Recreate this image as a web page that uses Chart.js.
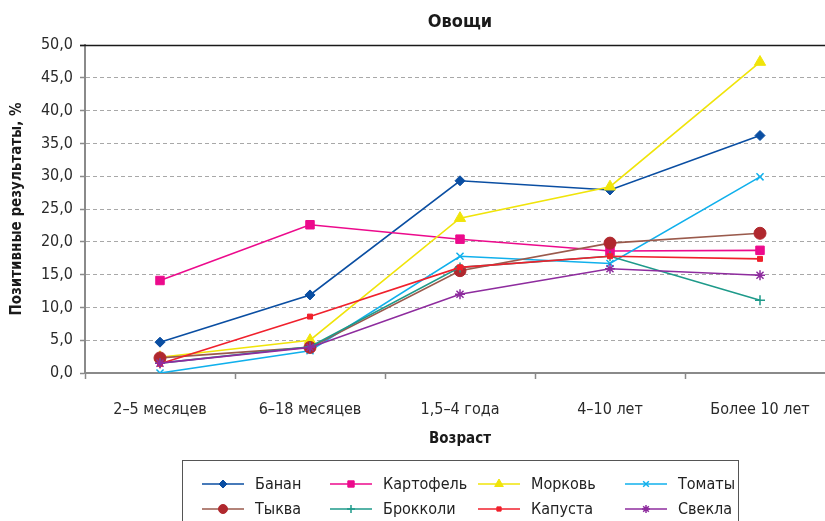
<!DOCTYPE html>
<html>
<head>
<meta charset="utf-8">
<script src="https://cdn.jsdelivr.net/npm/chart.js@4.4.1/dist/chart.umd.min.js"></script>
<style>
  html, body { margin: 0; padding: 0; background: #fff; }
  #wrap { width: 825px; height: 521px; overflow: hidden; position: relative; }
  canvas { display: block; }
</style>
</head>
<body>
<div id="wrap"><canvas id="chart" width="850" height="521"></canvas></div>
<script>
const FONT = "'Liberation Sans Narrow', 'DejaVu Sans Condensed', 'Roboto', sans-serif";

const chartTitle = 'Овощи';
const xTitle = 'Возраст';
const yTitle = 'Позитивные результаты, %';
const ageGroups = ['2–5 месяцев', '6–18 месяцев', '1,5–4 года', '4–10 лет', 'Более 10 лет'];

const seriesNames = ['Банан', 'Картофель', 'Морковь', 'Томаты', 'Тыква', 'Брокколи', 'Капуста', 'Свекла'];
const banana   = [4.7, 11.9, 29.3, 27.9, 36.2];
const potato   = [14.1, 22.6, 20.4, 18.6, 18.7];
const carrot   = [2.4, 5.0, 23.6, 28.4, 47.4];
const tomato   = [0.0, 3.4, 17.8, 16.7, 29.9];
const pumpkin  = [2.3, 3.9, 15.6, 19.8, 21.3];
const broccoli = [1.5, 4.0, 16.1, 17.8, 11.1];
const cabbage  = [1.4, 8.6, 16.1, 17.8, 17.4];
const beet     = [1.5, 3.9, 12.0, 15.9, 14.9];

const yTicks = [0, 5, 10, 15, 20, 25, 30, 35, 40, 45, 50];

const seriesValues = [banana, potato, carrot, tomato, pumpkin, broccoli, cabbage, beet];
const lineColors  = ['#0a4ea2', '#ec0a8c', '#f0e40a', '#10b0ec', '#9a5a4c', '#1e9a8a', '#f0202c', '#8e2c9e'];
const pointColors = ['#0a4ea2', '#ec0a8c', '#f0e40a', '#10b0ec', '#b0282e', '#1e9a8a', '#f0202c', '#8e2c9e'];
const pointShapes = ['rectRot', 'rect', 'triangle', 'crossRot', 'circle', 'cross', 'rect', 'star'];
const pointSizes  = [5, 6, 6.5, 5, 6, 5, 3.5, 5];
const legendSizes = [4, 4.5, 5, 4, 4.5, 4, 3, 4];

const datasets = seriesNames.map((name, i) => ({
    label: name,
    data: seriesValues[i],
    order: seriesNames.length - i,
    borderColor: lineColors[i],
    backgroundColor: pointColors[i],
    pointBackgroundColor: pointColors[i],
    pointBorderColor: pointColors[i],
    pointStyle: pointShapes[i],
    pointRadius: pointSizes[i],
    pointBorderWidth: (pointShapes[i] === 'crossRot' || pointShapes[i] === 'cross' || pointShapes[i] === 'star') ? 1.5 : 1,
    borderWidth: 1.6,
    fill: false,
    tension: 0
}));

// legend drawn inside the box under the chart, 4 columns x 2 rows
const legendCols = [202, 330, 478, 625];
const legendRows = [484, 509];

const frameTitleLegend = {
    id: 'frameTitleLegend',
    afterDraw(chart) {
        const ctx = chart.ctx;
        const y = chart.scales.y;
        const area = chart.chartArea;
        ctx.save();
        // top frame line
        ctx.strokeStyle = '#1a1a1a';
        ctx.lineWidth = 1.5;
        ctx.beginPath();
        const top = Math.round(y.getPixelForValue(50)) + 0.5;
        ctx.moveTo(area.left - 5, top);
        ctx.lineTo(chart.width, top);
        ctx.stroke();

        // title centred over the plot area
        ctx.font = 'bold 18px ' + FONT;
        ctx.fillStyle = '#1a1a1a';
        ctx.textAlign = 'center';
        ctx.textBaseline = 'middle';
        ctx.fillText(chartTitle, (area.left + area.right) / 2, 22);

        // legend box
        ctx.strokeStyle = '#555';
        ctx.lineWidth = 1;
        ctx.strokeRect(182.5, 460.5, 556, 80);

        ctx.font = '16px ' + FONT;
        ctx.textAlign = 'left';
        chart.data.datasets.forEach((ds, k) => {
            const cx = legendCols[k % 4];
            const cy = legendRows[Math.floor(k / 4)];
            ctx.strokeStyle = ds.borderColor;
            ctx.lineWidth = 1.6;
            ctx.beginPath();
            ctx.moveTo(cx, cy);
            ctx.lineTo(cx + 42, cy);
            ctx.stroke();
            ctx.fillStyle = ds.pointBackgroundColor;
            ctx.strokeStyle = ds.pointBorderColor;
            ctx.lineWidth = ds.pointBorderWidth;
            Chart.helpers.drawPoint(ctx, {
                pointStyle: ds.pointStyle,
                radius: legendSizes[k],
                rotation: 0,
                borderWidth: ds.pointBorderWidth
            }, cx + 21, cy);
            ctx.fillStyle = '#222';
            ctx.fillText(ds.label, cx + 53, cy + 1);
        });
        ctx.restore();
    }
};

new Chart(document.getElementById('chart'), {
    type: 'line',
    data: { labels: ageGroups, datasets },
    options: {
        responsive: false,
        animation: false,
        devicePixelRatio: 1,
        layout: { padding: { left: 0, right: 15, top: 45, bottom: 68 } },
        plugins: {
            legend: { display: false },
            tooltip: { enabled: false },
            title: { display: false }
        },
        scales: {
            x: {
                type: 'category',
                offset: true,
                afterFit(scale) { scale.height = 80; },
                grid: {
                    offset: true,
                    drawOnChartArea: false,
                    tickLength: 6,
                    tickColor: '#8a8a8a',
                    tickWidth: 1.5
                },
                border: { color: '#8a8a8a', width: 2 },
                ticks: {
                    color: '#2a2a2a',
                    padding: 21,
                    font: { family: FONT, size: 16 }
                },
                title: {
                    display: true,
                    text: xTitle,
                    color: '#1a1a1a',
                    font: { family: FONT, size: 15, weight: 'bold' },
                    padding: { top: 0, bottom: 5 }
                }
            },
            y: {
                min: 0,
                max: 50,
                afterFit(scale) { scale.width = 85; },
                afterBuildTicks(scale) { scale.ticks = yTicks.map(v => ({ value: v })); },
                grid: {
                    color: ctx => (ctx.tick && ctx.tick.value === 50) ? 'rgba(0,0,0,0)' : '#a8a8a8',
                    lineWidth: 1,
                    tickLength: 5,
                    tickColor: '#8a8a8a',
                    tickWidth: 1.5
                },
                border: { color: '#8a8a8a', width: 2, dash: [4, 3] },
                ticks: {
                    color: '#2a2a2a',
                    padding: 7,
                    font: { family: FONT, size: 16 },
                    callback: v => v.toFixed(1).replace('.', ',')
                },
                title: {
                    display: true,
                    text: yTitle,
                    color: '#1a1a1a',
                    font: { family: FONT, size: 15, weight: 'bold' },
                    padding: { top: 8, bottom: 8 }
                }
            }
        }
    },
    plugins: [frameTitleLegend]
});
</script>
</body>
</html>
